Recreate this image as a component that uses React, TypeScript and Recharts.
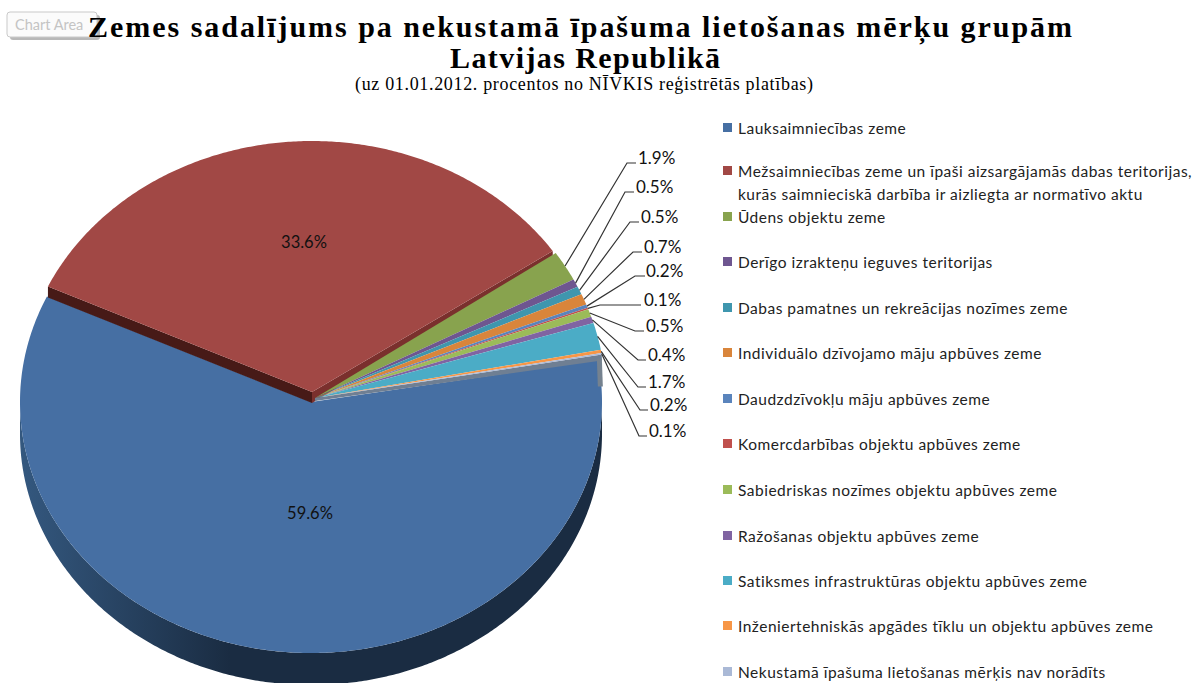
import React from 'react';
import { PieChart, Pie, Legend } from 'recharts';

const categories = [
  'Lauksaimniecības zeme',
  'Mežsaimniecības zeme un īpaši aizsargājamās dabas teritorijas,\nkurās saimnieciskā darbība ir aizliegta ar normatīvo aktu',
  'Ūdens objektu zeme',
  'Derīgo izrakteņu ieguves teritorijas',
  'Dabas pamatnes un rekreācijas nozīmes zeme',
  'Individuālo dzīvojamo māju apbūves zeme',
  'Daudzdzīvokļu māju apbūves zeme',
  'Komercdarbības objektu apbūves zeme',
  'Sabiedriskas nozīmes objektu apbūves zeme',
  'Ražošanas objektu apbūves zeme',
  'Satiksmes infrastruktūras objektu apbūves zeme',
  'Inženiertehniskās apgādes tīklu un objektu apbūves zeme',
  'Nekustamā īpašuma lietošanas mērķis nav norādīts',
];
const shares = [59.6, 33.6, 1.9, 0.5, 0.5, 0.7, 0.2, 0.1, 0.5, 0.4, 1.7, 0.2, 0.1];
const colors = ['#466FA3', '#A14845', '#88A34E', '#6E5690', '#3F96AE', '#D9853B', '#5A84BC', '#C0504D', '#9BBB59', '#8064A2', '#4BACC6', '#F79646', '#AAB9D6'];
const titleLines = ['Zemes sadalījums pa nekustamā īpašuma lietošanas mērķu grupām', 'Latvijas Republikā'];
const subtitle = '(uz 01.01.2012. procentos no NĪVKIS reģistrētās platības)';

const data = categories.map((name, i) => ({ name, value: shares[i], color: colors[i], fill: colors[i] }));

const RAD = Math.PI / 180;
const RY_DOWN = 251;
const sliceOffset = (i: number) => (i === 0 ? { dx: -4, dy: 4, ry: 251 } : i === 1 ? { dx: -3, dy: -6, ry: 251 } : { dx: 0, dy: 0, ry: 258 });

const ellipsePoint = (cx: number, cy: number, r: number, deg: number, ryUp = 258) => {
  const s = Math.sin(deg * RAD);
  const ry = s > 0 ? ryUp : RY_DOWN;
  return [cx + r * Math.cos(deg * RAD), cy - ry * s] as const;
};

const arcPoints = (cx: number, cy: number, r: number, a: number, b: number, ryUp: number) => {
  const pts: (readonly [number, number])[] = [];
  const n = Math.max(2, Math.ceil(Math.abs(a - b) * 2));
  for (let i = 0; i <= n; i++) pts.push(ellipsePoint(cx, cy, r, a + ((b - a) * i) / n, ryUp));
  return pts;
};
const toPath = (pts: (readonly [number, number])[]) => 'M' + pts.map((p) => `${p[0].toFixed(2)},${p[1].toFixed(2)}`).join('L') + 'Z';

function EllipseSector(props: any) {
  const { cx, cy, outerRadius, startAngle, endAngle } = props;
  const name = props.name ?? props.payload?.name;
  const i = categories.indexOf(name);
  const fill = colors[i];
  const { dx, dy, ry } = sliceOffset(i);
  const x = cx + dx;
  const y = cy + dy;
  const arc = arcPoints(x, y, outerRadius, startAngle, endAngle, ry);
  const top = toPath([[x, y], ...arc]);
  const parts: React.ReactNode[] = [];
  if (i === 0) {
    const depth = 32;
    const front = arcPoints(x, y, outerRadius, 0, -180, ry);
    const shifted = [...front].reverse().map((p) => [p[0], p[1] + depth] as const);
    parts.push(
      <defs key="grad">
        <linearGradient id="wallShade" gradientUnits="userSpaceOnUse" x1={20} y1={0} x2={230} y2={0}>
          <stop offset="0%" stopColor="#34587F" />
          <stop offset="100%" stopColor="#1A2C42" />
        </linearGradient>
      </defs>,
    );
    parts.push(<path key="wall" d={toPath([...front, ...shifted])} fill="url(#wallShade)" />);
  }
  if (i === 1) {
    const a = arc[0];
    const b = arc[arc.length - 1];
    parts.push(<path key="w1" d={toPath([[x, y], a, [a[0], a[1] + 11], [x, y + 11]])} fill="#471A17" />);
    parts.push(<path key="w2" d={toPath([[x, y], b, [b[0], b[1] + 6], [x, y + 11]])} fill="#7A302D" />);
  }
  if (i === categories.length - 1) {
    const b = arc[arc.length - 1];
    parts.push(<path key="g1" d={toPath([[x, y], b, [b[0], b[1] + 6], [x, y + 3]])} fill="#6F7F93" />);
    parts.push(<path key="g2" d={toPath([[b[0] - 5, b[1] + 4], [b[0], b[1] + 4], [b[0] + 1, b[1] + 32], [b[0] - 4, b[1] + 32]])} fill="#75828F" />);
  }
  return (
    <g>
      {parts}
      <path d={top} fill={fill} />
    </g>
  );
}

// Leader layout for the outside labels: elbow, end of the leader, text anchor.
const leaderLayout: Record<number, { elbow: [number, number]; end: number; tx: number }> = {
  2: { elbow: [627, 163], end: 636, tx: 638 },
  3: { elbow: [625, 192], end: 634, tx: 636 },
  4: { elbow: [630, 222], end: 639, tx: 641 },
  5: { elbow: [633, 252], end: 642, tx: 644 },
  6: { elbow: [635, 276], end: 645, tx: 646 },
  7: { elbow: [600, 305], end: 641, tx: 644 },
  8: { elbow: [635, 331], end: 644, tx: 646 },
  9: { elbow: [638, 360], end: 646, tx: 648 },
  10: { elbow: [638, 387], end: 646, tx: 648 },
  11: { elbow: [640, 410], end: 648, tx: 650 },
  12: { elbow: [639, 436], end: 647, tx: 649 },
};
const insideLabel: Record<number, [number, number]> = { 0: [310, 512], 1: [304, 241] };

const LABEL_FONT = 'Lato, "Open Sans", sans-serif';

function renderLabel(props: any) {
  const { cx, cy, midAngle, index, value } = props;
  const text = `${value.toFixed(1)}%`;
  if (insideLabel[index]) {
    const [lx, ly] = insideLabel[index];
    return (
      <text key={index} x={lx} y={ly + 1} textAnchor="middle" dominantBaseline="central" fontFamily={LABEL_FONT} fontSize={16.5} fill="#111">
        {text}
      </text>
    );
  }
  const l = leaderLayout[index];
  const start = ellipsePoint(cx, cy, 291, midAngle);
  return (
    <g key={index}>
      <polyline points={`${start[0]},${start[1]} ${l.elbow[0]},${l.elbow[1]} ${l.end},${l.elbow[1]}`} fill="none" stroke="#333" strokeWidth={1.2} />
      <text x={l.tx} y={l.elbow[1] - 6} dominantBaseline="central" fontFamily={LABEL_FONT} fontSize={17} fill="#111">
        {text}
      </text>
    </g>
  );
}

const legendY = [128, 171, 217, 262, 308, 353, 399, 444, 490, 536, 581, 626, 672];

function LegendContent() {
  return (
    <div style={{ position: 'relative', width: 1193, height: 683 }}>
      {data.map((d, i) => (
        <div key={d.name} style={{ position: 'absolute', left: 0, top: legendY[i] - 10, height: 20 }}>
          <span style={{ position: 'absolute', left: 723, top: 5, width: 9, height: 9, background: d.color }} />
          <span style={{ position: 'absolute', left: 738, top: -1.5, whiteSpace: 'pre', fontFamily: LABEL_FONT, fontSize: 15.5, lineHeight: '23px', letterSpacing: 0.5, color: '#222' }}>
            {d.name}
          </span>
        </div>
      ))}
    </div>
  );
}

export default function App() {
  return (
    <div style={{ position: 'absolute', left: 0, top: 0, width: 1193, height: 683, overflow: 'hidden', background: '#fff' }}>
      <PieChart width={1193} height={683} margin={{ top: 0, right: 0, bottom: 0, left: 0 }}>
        <rect x={10} y={15} width={90} height={25} rx={3} fill="#9a9a9a" opacity={0.7} />
        <rect x={7} y={12} width={90} height={25} rx={3} fill="#fbfbfb" stroke="#c9c9c9" />
        <text x={15} y={30} fontFamily={LABEL_FONT} fontSize={14.5} fill="#c4c4c4">Chart Area</text>
        <text x={88} y={37} textLength={984} lengthAdjust="spacing" fontFamily='"Liberation Serif", serif' fontWeight="bold" fontSize={30} fill="#000">{titleLines[0]}</text>
        <text x={450} y={68} textLength={270} lengthAdjust="spacing" fontFamily='"Liberation Serif", serif' fontWeight="bold" fontSize={30} fill="#000">{titleLines[1]}</text>
        <text x={355} y={90} textLength={458} lengthAdjust="spacing" fontFamily='"Liberation Serif", serif' fontSize={18} fill="#000">{subtitle}</text>
        <Pie
          data={data}
          dataKey="value"
          nameKey="name"
          cx={315}
          cy={398}
          outerRadius={291}
          innerRadius={0}
          startAngle={9.7}
          endAngle={-350.3}
          stroke="none"
          isAnimationActive={false}
          shape={EllipseSector}
          inactiveShape={EllipseSector}
          label={renderLabel}
          labelLine={false}
        />
        <Legend content={<LegendContent />} wrapperStyle={{ left: 0, top: 0, width: 1193, height: 683 }} />
      </PieChart>
    </div>
  );
}
